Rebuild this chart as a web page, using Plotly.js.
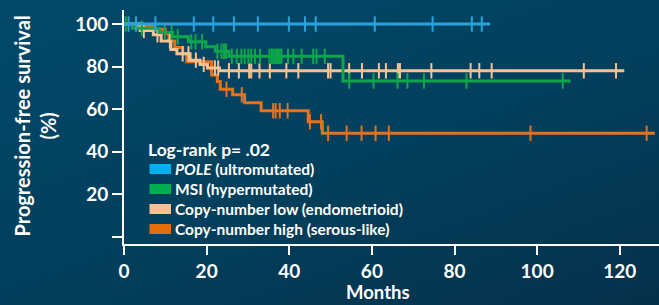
<!DOCTYPE html>
<html>
<head>
<meta charset="utf-8">
<script src="https://cdn.plot.ly/plotly-3.0.1.min.js"></script>
<style>
html,body{margin:0;padding:0;width:659px;height:305px;overflow:hidden;
background:linear-gradient(160deg,#02496a 0%,#023f5c 55%,#05304a 100%);}
#chart{width:659px;height:305px;}
</style>
</head>
<body>
<div id="chart"></div>
<script>
// ---- data ----
const seriesNames = ["<i>POLE</i> (ultromutated)", "MSI (hypermutated)", "Copy-number low (endometrioid)", "Copy-number high (serous-like)"];
const seriesColors = ["#2aa3dc", "#0fa64a", "#f9c293", "#e8711e"];
const swatchColors = ["#00b0f0", "#00b050", "#fac090", "#e46c0a"];

const poleTime = [0, 88.6];
const poleSurv = [100, 100];
const poleCens = [1.1, 2.9, 7.6, 16.9, 21.6, 26.6, 32.4, 39.9, 43.8, 46.4, 60.7, 74.7, 84.2, 86.6];

const msiTime = [0, 2.0, 8.5, 11.8, 15.6, 19.8, 22.1, 25.4, 53.0, 108.1];
const msiSurv = [100, 98, 96, 94, 91.7, 89.3, 87.2, 84.8, 73.2, 73.2];
const msiCens = [0.4, 4.3, 9.9, 11.5, 13.0, 16.3, 17.3, 18.9, 22.6, 23.6, 24.2, 24.7, 26.1, 27.3, 28.4, 29.2, 30.1, 30.8, 31.7, 32.9, 35.2, 35.7, 36.1, 36.6, 37.0, 37.3, 37.7, 38.1, 39.7, 41.0, 43.0, 45.8, 46.6, 48.6, 54.5, 60.4, 66.2, 68.6, 72.6, 82.9, 106.2];

const cnlTime = [0, 3.9, 7.1, 9.0, 11.35, 12.8, 16.0, 18.4, 20.2, 23.1, 121.1];
const cnlSurv = [100, 97, 95, 92, 88, 86, 83, 81, 79.3, 78, 78];
const cnlCens = [4.8, 8.1, 11.1, 14.2, 15.6, 17.4, 19.3, 22.0, 22.8, 25.4, 27.8, 30.3, 30.8, 32.8, 35.3, 39.3, 42.2, 49.4, 50.0, 54.5, 57.6, 61.7, 63.4, 66.3, 66.8, 74.4, 83.9, 86.0, 89.0, 111.3, 119.1];

const cnhTime = [0, 3.4, 7.1, 10.0, 10.9, 12.3, 14.2, 15.2, 21.2, 22.6, 23.3, 26.3, 29.2, 33.2, 44.6, 48.0, 128.5];
const cnhSurv = [100, 98.8, 97.5, 95.5, 92, 89, 86, 82.3, 76, 73, 69.3, 66.7, 63, 59.2, 54, 48.6, 48.6];
const cnhCens = [24.8, 28.5, 36.1, 36.7, 37.7, 39.6, 45.0, 47.7, 49.4, 53.9, 57.5, 60.9, 64.1, 98.4, 126.5];

const xTickVals = [0, 20, 40, 60, 80, 100, 120];
const xTickText = ["0", "20", "40", "60", "80", "100", "120"];
const yTickVals = [0, 20, 40, 60, 80, 100];
const yTickText = ["", "20", "40", "60", "80", "100"];
const statText = "Log-rank p= .02";
const xTitle = "Months";
const yTitle = "Progression-free survival<br>(%)";

// ---- build ----
function stepAt(times, surv, t) {
  let v = surv[0];
  for (let i = 0; i < times.length; i++) { if (times[i] <= t) v = surv[i]; }
  return v;
}
const groups = [
  {t: cnhTime, s: cnhSurv, c: cnhCens, col: seriesColors[3]},
  {t: cnlTime, s: cnlSurv, c: cnlCens, col: seriesColors[2]},
  {t: msiTime, s: msiSurv, c: msiCens, col: seriesColors[1]},
  {t: poleTime, s: poleSurv, c: poleCens, col: seriesColors[0]}
];
const traces = [];
groups.forEach(g => {
  traces.push({x: g.t, y: g.s, type: 'scatter', mode: 'lines', line: {shape: 'hv', color: g.col, width: 3}, showlegend: false, hoverinfo: 'skip', cliponaxis: false});
  traces.push({x: g.c, y: g.c.map(t => stepAt(g.t, g.s, t)), type: 'scatter', mode: 'markers',
    marker: {symbol: 'line-ns', size: 11, line: {color: g.col, width: 2}}, showlegend: false, hoverinfo: 'skip', cliponaxis: false});
});

// layout helpers (pixel -> paper)
const L = 124, R = 659, T = 10, B = 244;
const px = v => (v - L) / (R - L);
const py = v => (B - v) / (B - T);

const shapes = [];
const annotations = [];
annotations.push({xref: 'paper', yref: 'paper', x: px(146), y: py(149), xanchor: 'left', yanchor: 'middle', showarrow: false,
  text: statText, font: {family: 'Lato', size: 17.5, color: '#ffffff', weight: 700}});
const rowY = [169, 189, 209, 229];
seriesNames.forEach((n, i) => {
  shapes.push({type: 'rect', xref: 'paper', yref: 'paper', x0: px(149.5), x1: px(171), y0: py(rowY[i] - 5), y1: py(rowY[i] + 5),
    fillcolor: swatchColors[i], line: {width: 0}});
  annotations.push({xref: 'paper', yref: 'paper', x: px(173), y: py(rowY[i]), xanchor: 'left', yanchor: 'middle', showarrow: false,
    text: n, font: {family: 'Lato', size: 15.5, color: '#ffffff', weight: 700}});
});
annotations.push({xref: 'paper', yref: 'paper', x: px(378), y: py(291.5), xanchor: 'center', yanchor: 'middle', showarrow: false,
  text: xTitle, font: {family: 'Lato', size: 18.5, color: '#ffffff', weight: 700}});
annotations.push({xref: 'paper', yref: 'paper', x: px(34.5), y: py(126), xanchor: 'center', yanchor: 'middle', showarrow: false,
  textangle: -90, text: yTitle, font: {family: 'Lato', size: 20, color: '#ffffff', weight: 700}});

const axFont = {family: 'Lato', size: 19, color: '#ffffff', weight: 700};
const layout = {
  width: 659, height: 305,
  paper_bgcolor: 'rgba(0,0,0,0)', plot_bgcolor: 'rgba(0,0,0,0)',
  margin: {l: L, r: 659 - R, t: T, b: 305 - B},
  showlegend: false,
  xaxis: {range: [0, 129.5], tickvals: xTickVals, ticktext: xTickText, showgrid: false, zeroline: false,
    showline: true, linecolor: '#ffffff', linewidth: 2, ticks: 'outside', ticklen: 9, tickwidth: 2, tickcolor: '#ffffff',
    tickfont: axFont},
  yaxis: {range: [-3.5, 106.6], tickvals: yTickVals, ticktext: yTickText, showgrid: false, zeroline: false,
    showline: true, linecolor: '#ffffff', linewidth: 2, ticks: 'outside', ticklen: 10, tickwidth: 2, tickcolor: '#ffffff',
    tickfont: axFont},
  shapes: shapes,
  annotations: annotations
};
Plotly.newPlot('chart', traces, layout, {displayModeBar: false, staticPlot: true});
</script>
</body>
</html>
